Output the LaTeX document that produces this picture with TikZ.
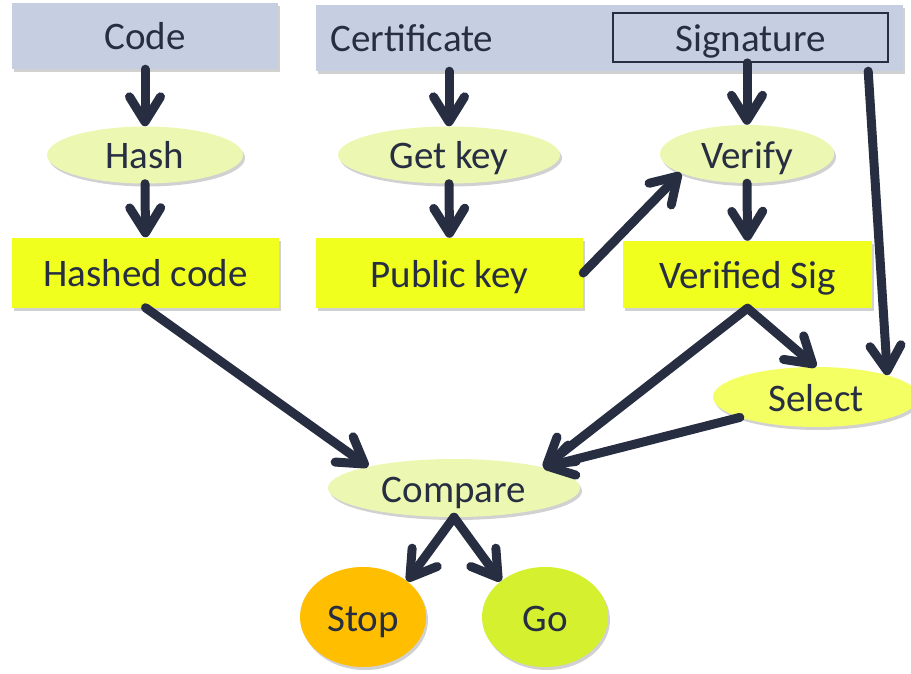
\documentclass[tikz,border=0pt]{standalone}
\usepackage{fontspec}
\setmainfont{Carlito}
\usetikzlibrary{shapes.geometric,arrows.meta,shadows,calc}

\definecolor{ink}{HTML}{272E41}
\definecolor{slate}{HTML}{C6CEE1}
\definecolor{pale}{HTML}{ECF7B1}
\definecolor{lemon}{HTML}{F0FF1E}
\definecolor{sel}{HTML}{F3FF62}
\definecolor{amber}{HTML}{FFBF00}
\definecolor{lime}{HTML}{D4F02E}

\tikzset{
  lbl/.style={text=ink, font=\fontsize{39}{42}\selectfont, inner sep=0pt,
    text height=28pt, text depth=0pt},
  shade/.style={drop shadow={shadow xshift=2pt, shadow yshift=-3pt, fill=black, opacity=0.18}},
  srcbox/.style={lbl, rectangle, fill=slate, shade},
  resbox/.style={lbl, rectangle, fill=lemon, shade},
  opnode/.style={lbl, ellipse, fill=pale, shade},
  flow/.style={draw=ink, line width=9pt, line cap=round, line join=round,
    -{Straight Barb[length=25pt, width=31pt, line cap=round, line join=round]}}
}

\begin{document}
\begin{tikzpicture}[x=1pt, y=-1pt]
\useasboundingbox (0,0) rectangle (911,674);

% inputs
\node[srcbox, minimum width=266pt, minimum height=66pt] (code) at (145,36) {Code};
\node[srcbox, minimum width=587pt, minimum height=66pt] (cert) at (609.5,38) {};
\node[lbl] (certlbl) at (412,38) {Certificate};
\node[lbl, rectangle, fill=slate, draw=ink, line width=1.8pt,
      minimum width=275pt, minimum height=49pt] (sig) at (750.5,37.5) {Signature};

% first operations
\node[opnode, minimum width=196pt, minimum height=57pt] (hash) at (145,155) {Hash};
\node[opnode, minimum width=222pt, minimum height=57pt] (getkey) at (449,155) {Get key};
\node[opnode, minimum width=174pt, minimum height=58pt] (verify) at (747,154) {Verify};

% intermediate results
\node[resbox, minimum width=267pt, minimum height=70pt] (hashed) at (145.5,272.5) {Hashed code};
\node[resbox, minimum width=267pt, minimum height=70pt] (pub) at (449.5,273) {Public key};
\node[resbox, minimum width=249pt, minimum height=67pt] (vsig) at (747.5,274.5) {Verified Sig};

% selection and comparison
\node[lbl, ellipse, fill=sel, shade, minimum width=206pt, minimum height=60pt] (select) at (816,397) {Select};
\node[opnode, minimum width=252pt, minimum height=58pt] (compare) at (454,488) {Compare};

% outcomes
\node[lbl, ellipse, fill=amber, shade, minimum width=126pt, minimum height=100pt] (stop) at (363,617) {Stop};
\node[lbl, ellipse, fill=lime, shade, minimum width=126pt, minimum height=100pt] (go) at (545,617) {Go};

% tap on the certificate for the signature line
\coordinate (sigtap) at ($(cert.south east)+(-35,0)$);

% connectors
\draw[flow] (code.south) -- (hash.north);
\draw[flow] (hash.south) -- (hashed.north);
\draw[flow] (getkey.north |- cert.south) -- (getkey.north);
\draw[flow] (getkey.south) -- (pub.north);
\draw[flow] (verify.north |- sig.south) -- (verify.north);
\draw[flow] (verify.south) -- (vsig.north);
\draw[flow] (pub.east) -- (verify.196);
\draw[flow] (sigtap) -- (select.17);
\draw[flow] (vsig.south) -- (select.north);
\draw[flow] (vsig.south) -- (compare.13);
\draw[flow] (select.195) -- (compare.13);
\draw[flow] (hashed.south) -- (compare.166);
\draw[flow] (compare.south) -- (stop.39);
\draw[flow] (compare.south) -- (go.141);
\end{tikzpicture}
\end{document}
